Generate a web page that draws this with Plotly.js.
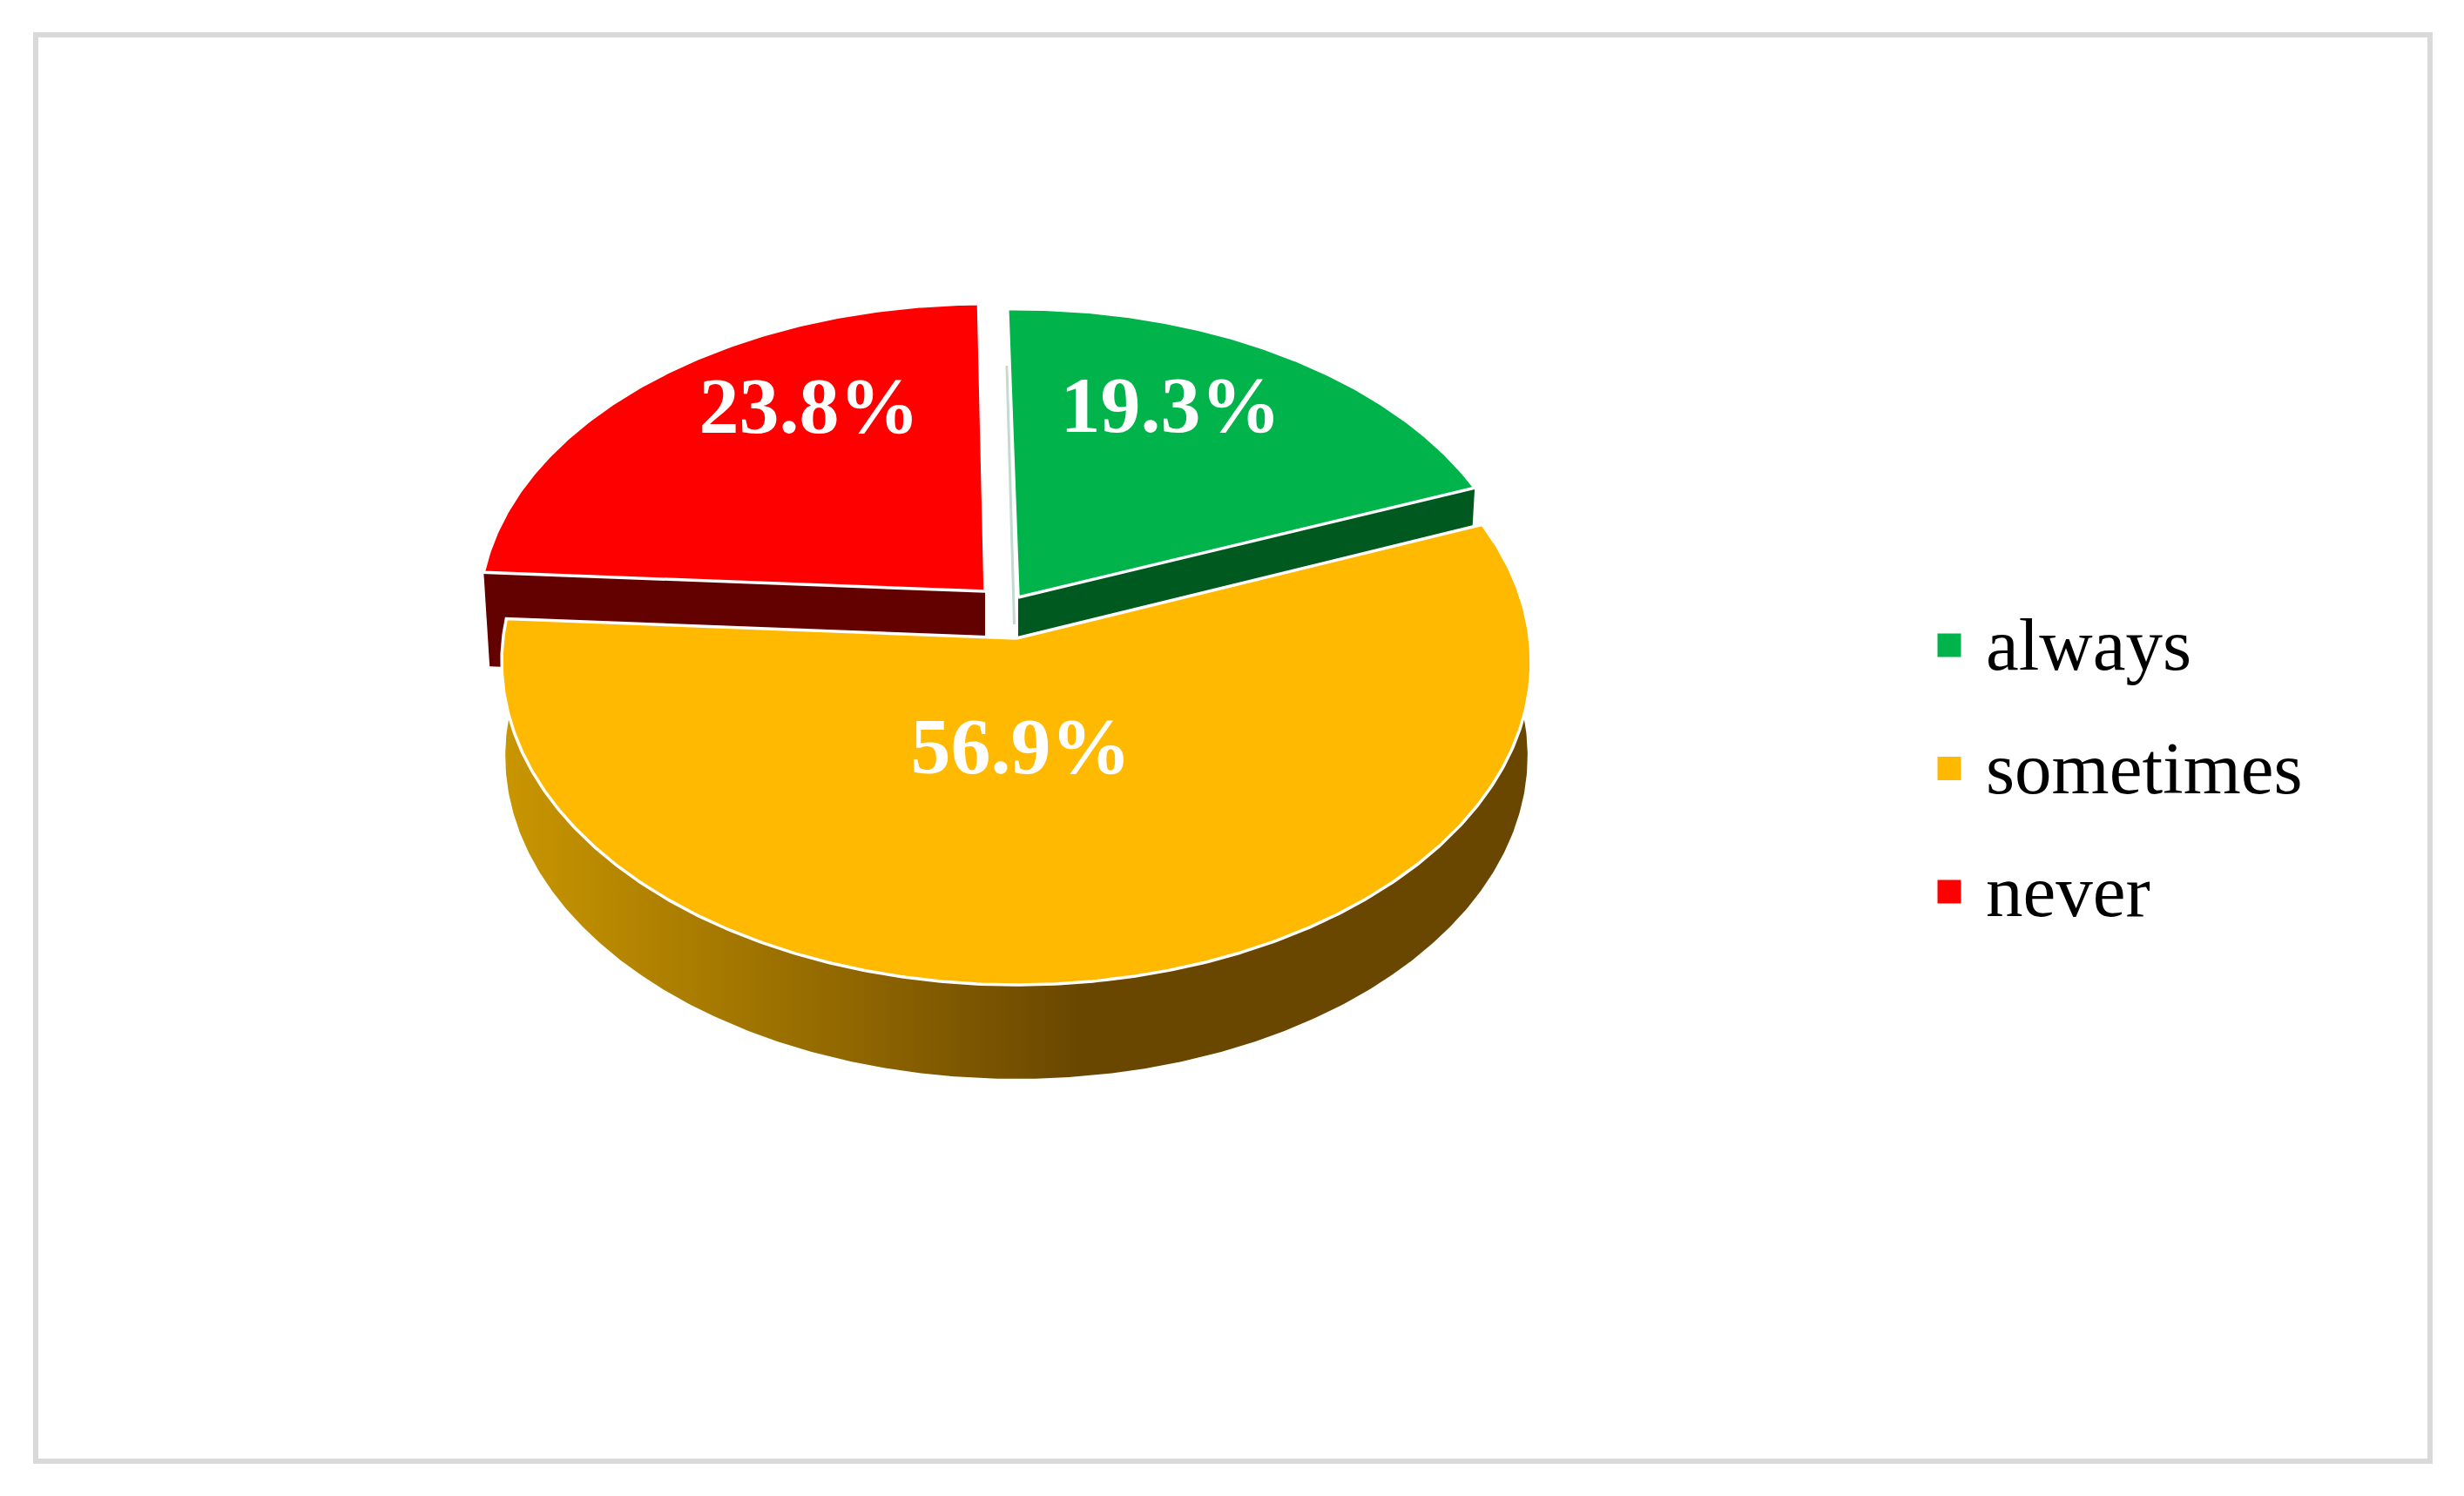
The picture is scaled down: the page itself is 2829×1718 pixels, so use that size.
<!DOCTYPE html>
<html>
<head>
<meta charset="utf-8">
<script src="https://cdn.plot.ly/plotly-3.0.1.min.js"></script>
<style>html,body{margin:0;padding:0;background:#fff;overflow:hidden}#chart{width:2829px;height:1718px}</style>
</head>
<body>
<div id="chart"></div>
<script>
// ---- data ----
var categories = ['always', 'sometimes', 'never'];
var values = [19.3, 56.9, 23.8];
var colors = ['#00b34a', '#ffb900', '#ff0000'];
var sideColors = ['#005a20', '#6a4700', '#630000'];

// ---- projected-disc geometry (pixels of the axes) ----
var FIRST_ANGLE = -0.8, PERSP = 0.0728, RX = 589.4, RY = 369;
var apexX = [1169, 1167, 1131];
var apexY = [686, 733, 679];
var scaleX = [0.98, 1, 0.983];
var scaleY = [0.963, 1, 0.96];
var startNudge = [-0.5, 0, 0];
var DEPTH = 108, SIDE_SHRINK = 0.988;

// label and legend placement
var labelX = [1344, 1172, 929];
var labelY = [473, 865, 474];
var legendMarkerX = 2238, legendTextX = 2280, legendTop = 741, legendStep = 141.5, legendTextDrop = 7;

var FONT = '"Liberation Serif","Times New Roman",serif';

function project(thetaDeg, ax, ay, kx, ky) {
  var t = thetaDeg * Math.PI / 180;
  var s = 1 / (1 + PERSP * Math.cos(t));
  return [ax + RX * kx * Math.sin(t) * s, ay - RY * ky * Math.cos(t) * s];
}
function arc(from, to, ax, ay, kx, ky) {
  var pts = [], n = Math.max(2, Math.ceil(Math.abs(to - from) * 2));
  for (var i = 0; i <= n; i++) pts.push(project(from + (to - from) * i / n, ax, ay, kx, ky));
  return pts;
}
function xs(p) { return p.map(function (a) { return a[0]; }); }
function ys(p) { return p.map(function (a) { return a[1]; }); }

// slice angles from the values
var total = values.reduce(function (a, b) { return a + b; }, 0);
var starts = [], ends = [], acc = FIRST_ANGLE;
values.forEach(function (v, i) { starts.push(acc + startNudge[i]); acc += v / total * 360; ends.push(acc); });

function topTrace(i) {
  var p = [[apexX[i], apexY[i]]].concat(arc(starts[i], ends[i], apexX[i], apexY[i], scaleX[i], scaleY[i]));
  p.push(p[0]);
  return { type: 'scatter', mode: 'lines', name: categories[i], x: xs(p), y: ys(p), fill: 'toself',
    fillcolor: colors[i], line: { color: '#ffffff', width: 3.5 }, showlegend: false, hoverinfo: 'name' };
}
function cutFaceTrace(i, angle) {
  // flat cut face of an exploded slice, running from the outer rim to the apex
  var a = project(angle, apexX[i], apexY[i], scaleX[i], scaleY[i]);
  var b = [apexX[i] + (a[0] - apexX[i]) * SIDE_SHRINK, a[1] + DEPTH];
  var c = [apexX[i], apexY[i] + DEPTH];
  var d = [apexX[i], apexY[i]];
  var p = [a, b, c, d, a];
  return { type: 'scatter', mode: 'lines', x: xs(p), y: ys(p), fill: 'toself', fillcolor: sideColors[i],
    line: { width: 0, color: sideColors[i] }, showlegend: false, hoverinfo: 'skip' };
}
function rimTrace(i) {
  var p = arc(80, 280, apexX[i], apexY[i] + DEPTH, 0.993, 1);
  p.push(p[0]);
  return { type: 'scatter', mode: 'lines', x: xs(p), y: ys(p), fill: 'toself',
    fillgradient: { type: 'horizontal', start: 580, stop: 1240,
      colorscale: [[0, '#c99600'], [1, sideColors[i]]] },
    line: { width: 0, color: sideColors[i] }, showlegend: false, hoverinfo: 'skip' };
}

var traces = [
  cutFaceTrace(2, starts[2]),
  topTrace(2),
  cutFaceTrace(0, ends[0]),
  topTrace(0),
  rimTrace(1),
  topTrace(1),
  // legend keys and names
  { type: 'scatter', mode: 'markers', x: categories.map(function () { return legendMarkerX; }),
    y: categories.map(function (c, i) { return legendTop + i * legendStep; }),
    marker: { symbol: 'square', size: 27, color: colors, line: { width: 0 } },
    showlegend: false, hoverinfo: 'skip' },
  { type: 'scatter', mode: 'text', x: categories.map(function () { return legendTextX; }),
    y: categories.map(function (c, i) { return legendTop + legendTextDrop + i * legendStep; }),
    text: categories, textposition: 'middle right',
    textfont: { family: FONT, size: 85, color: '#000000' }, showlegend: false, hoverinfo: 'skip' },
  // percentage labels
  { type: 'scatter', mode: 'text', x: labelX, y: labelY,
    text: values.map(function (v) { return v.toFixed(1) + '%'; }), textposition: 'middle center',
    textfont: { family: FONT, size: 92, color: '#ffffff', weight: 'bold' }, showlegend: false, hoverinfo: 'skip' }
];

var layout = {
  width: 2829, height: 1718,
  margin: { l: 0, r: 0, t: 0, b: 0 },
  paper_bgcolor: '#ffffff', plot_bgcolor: '#ffffff',
  showlegend: false,
  xaxis: { range: [0, 2829], visible: false, fixedrange: true },
  yaxis: { range: [1718, 0], visible: false, fixedrange: true },
  shapes: [
    { type: 'rect', xref: 'x', yref: 'y', x0: 41, y0: 40, x1: 2790, y1: 1678,
      line: { color: '#d9d9d9', width: 6 }, fillcolor: 'rgba(0,0,0,0)', layer: 'below' },
    { type: 'line', xref: 'x', yref: 'y', x0: 1156, y0: 420, x1: 1164.5, y1: 717,
      line: { color: '#c5d9d3', width: 3 }, layer: 'below' }
  ]
};
Plotly.newPlot('chart', traces, layout, { displayModeBar: false, staticPlot: true });
</script>
</body>
</html>
